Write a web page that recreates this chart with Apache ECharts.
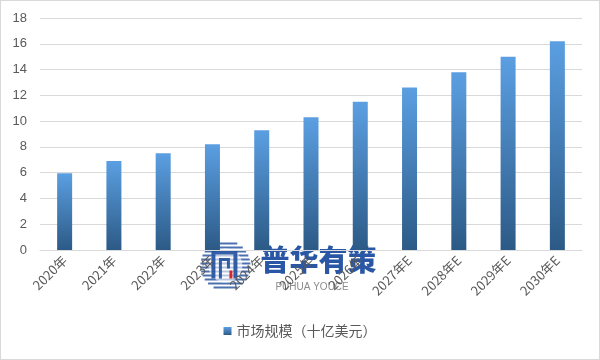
<!DOCTYPE html>
<html>
<head>
<meta charset="utf-8">
<script src="https://cdn.jsdelivr.net/npm/echarts@6/dist/echarts.min.js"></script>
<style>
html,body{margin:0;padding:0;background:#fff;}
#c{width:598px;height:358px;border:1px solid #d9d9d9;}
</style>
</head>
<body>
<div id="c"></div>
<script>
const categories = ['2020年','2021年','2022年','2023年','2024年','2025年','2026年','2027年E','2028年E','2029年E','2030年E'];
const marketSize = [5.95, 6.9, 7.5, 8.2, 9.3, 10.3, 11.5, 12.6, 13.8, 15.0, 16.2];
const seriesName = '市场规模（十亿美元）';
const yMin = 0, yMax = 18, yStep = 2;

const chart = echarts.init(document.getElementById('c'));
const grad = new echarts.graphic.LinearGradient(0,0,0,1,[
  {offset:0,color:'#5b9fe2'},
  {offset:1,color:'#2c5a86'}
]);
// decorative striped logo ring
const logoChildren = [];
const R = 25, cx = 26, cy = 25;
for (let k = -22; k <= 22; k += 4) {
  const half = Math.sqrt(R*R - k*k);
  logoChildren.push({type:'line',shape:{x1:cx-half,y1:cy+k,x2:cx+half,y2:cy+k},style:{stroke:'#1f4e9e',lineWidth:2,opacity:0.8}});
}
logoChildren.push({type:'circle',shape:{cx:cx,cy:cy,r:17},style:{fill:'#fff',opacity:0.6}});
logoChildren.push({type:'polyline',shape:{points:[[14,38],[14,12],[36,12],[36,38]]},style:{fill:'none',stroke:'#1f4e9e',lineWidth:4,opacity:0.9}});
logoChildren.push({type:'polyline',shape:{points:[[21,38],[21,19],[29,19],[29,28]]},style:{fill:'none',stroke:'#1f4e9e',lineWidth:3,opacity:0.9}});
logoChildren.push({type:'rect',shape:{x:30,y:30,width:3,height:8},style:{fill:'#d9262c'}});
logoChildren.push({type:'text',style:{x:61,y:5,text:'普华有策',fill:'#1f4ea0',font:'900 29px "Noto Sans CJK SC"',opacity:0.95}});
logoChildren.push({type:'text',style:{x:76,y:42,text:'PUHUA YOUCE',fill:'#8c8c8c',font:'10px "Liberation Sans"'}});

chart.setOption({
  animation:false,
  backgroundColor:'#fff',
  grid:{left:39,right:17,top:17,bottom:109,containLabel:false},
  legend:{
    bottom:16,left:'center',
    itemWidth:8,itemHeight:8,itemGap:6,
    icon:'rect',
    textStyle:{color:'#595959',fontSize:14,fontFamily:'Noto Sans CJK SC'},
    data:[{name:seriesName,itemStyle:{color:grad}}]
  },
  xAxis:{
    type:'category',data:categories,z:5,
    axisLine:{lineStyle:{color:'#d9d9d9'}},
    axisTick:{show:false},
    axisLabel:{rotate:45,color:'#595959',fontSize:13,margin:8,interval:0,fontFamily:'Noto Sans CJK SC'}
  },
  yAxis:{
    type:'value',min:yMin,max:yMax,interval:yStep,
    axisLine:{show:false},axisTick:{show:false},
    splitLine:{lineStyle:{color:'#d9d9d9'}},
    axisLabel:{color:'#595959',fontSize:13,margin:13,fontFamily:'Liberation Sans'}
  },
  series:[{
    name:seriesName,type:'bar',data:marketSize,barWidth:15,
    itemStyle:{color:grad}
  }],
  graphic:[{
    type:'group',left:197,top:240,z:1,
    children:logoChildren
  }]
});
</script>
</body>
</html>
